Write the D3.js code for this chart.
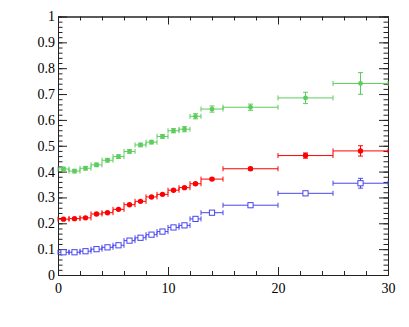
<!DOCTYPE html>
<html lang="en">
  <head>
    <meta charset="utf-8">
    <title>Three series with error bars</title>
    <script src="https://d3js.org/d3.v7.min.js"></script>
    <style>
      body { margin: 0; background: #fff; }
      svg text { font-family: "Liberation Serif", "DejaVu Serif", Tinos, serif !important; font-size: 14px !important; }
    </style>
  </head>
  <body>
  <script>

  var w = 409;
  var h = 327;
  var margin = {top: 16.5, right: 21, bottom: 52, left: 58};

  // bin centres and half widths (shared by all series)
  var xVals = [0.5, 1.5, 2.5, 3.5, 4.5, 5.5, 6.5, 7.5, 8.5, 9.5, 10.5, 11.5, 12.5, 14, 17.5, 22.5, 27.5];
  var xErr  = [0.5, 0.5, 0.5, 0.5, 0.5, 0.5, 0.5, 0.5, 0.5, 0.5, 0.5, 0.5, 0.5, 1, 2.5, 2.5, 2.5];

  // green series
  var greenY   = [0.410, 0.402, 0.413, 0.426, 0.444, 0.458, 0.478, 0.503, 0.514, 0.536, 0.558, 0.564, 0.614, 0.642, 0.649, 0.685, 0.741];
  var greenErr = [0.007, 0.007, 0.007, 0.007, 0.007, 0.007, 0.007, 0.007, 0.007, 0.007, 0.008, 0.010, 0.010, 0.012, 0.012, 0.022, 0.042];

  // red series
  var redY   = [0.216, 0.218, 0.221, 0.236, 0.241, 0.254, 0.272, 0.285, 0.302, 0.312, 0.328, 0.338, 0.353, 0.371, 0.411, 0.462, 0.480];
  var redErr = [0.003, 0.003, 0.003, 0.003, 0.003, 0.003, 0.003, 0.003, 0.003, 0.003, 0.003, 0.004, 0.004, 0.004, 0.005, 0.010, 0.020];

  // blue series
  var blueY   = [0.088, 0.088, 0.092, 0.100, 0.107, 0.115, 0.133, 0.144, 0.156, 0.168, 0.184, 0.192, 0.217, 0.241, 0.270, 0.316, 0.355];
  var blueErr = [0.005, 0.005, 0.005, 0.005, 0.005, 0.005, 0.005, 0.005, 0.005, 0.005, 0.005, 0.005, 0.006, 0.006, 0.006, 0.007, 0.019];

  var xTicks = [0, 10, 20, 30];
  var yTicks = [0, 0.1, 0.2, 0.3, 0.4, 0.5, 0.6, 0.7, 0.8, 0.9, 1];

  var svg = d3.select("body")
    .append("svg")
    .attr("width", w)
    .attr("height", h);

  var xScale = d3.scaleLinear()
    .domain([0, 30])
    .range([margin.left, w - margin.right]);

  var yScale = d3.scaleLinear()
    .domain([0, 1])
    .range([h - margin.bottom, margin.top]);

  var x0 = xScale.range()[0], x1 = xScale.range()[1];
  var y0 = yScale.range()[0], y1 = yScale.range()[1];

  //minor tick positions
  var xMinor = d3.range(0, 30.001, 2);
  var yMinor = d3.range(0, 1.001, 0.02);

  function styleAxis(g) {
    g.attr("font-family", null).attr("font-size", null);
    g.selectAll("path.domain").attr("stroke", "#222");
    g.selectAll(".tick line").attr("stroke", "#222");
    g.selectAll(".tick text").attr("fill", "#000");
  }

  // bottom axis
  svg.append("g")
    .attr("transform", `translate(0, ${y0})`)
    .call(d3.axisBottom(xScale).tickValues(xTicks).tickSizeInner(-8).tickSizeOuter(0).tickPadding(8).tickFormat(d3.format("~g")))
    .call(styleAxis);
  svg.append("g")
    .attr("transform", `translate(0, ${y0})`)
    .call(d3.axisBottom(xScale).tickValues(xMinor).tickSizeInner(-4).tickSizeOuter(0).tickFormat(""))
    .call(styleAxis);

  // top axis
  svg.append("g")
    .attr("transform", `translate(0, ${y1})`)
    .call(d3.axisTop(xScale).tickValues(xTicks).tickSizeInner(-8).tickSizeOuter(0).tickFormat(""))
    .call(styleAxis);
  svg.append("g")
    .attr("transform", `translate(0, ${y1})`)
    .call(d3.axisTop(xScale).tickValues(xMinor).tickSizeInner(-4).tickSizeOuter(0).tickFormat(""))
    .call(styleAxis);

  // left axis
  svg.append("g")
    .attr("transform", `translate(${x0}, 0)`)
    .call(d3.axisLeft(yScale).tickValues(yTicks).tickSizeInner(-9).tickSizeOuter(0).tickPadding(3).tickFormat(d3.format("~g")))
    .call(styleAxis);
  svg.append("g")
    .attr("transform", `translate(${x0}, 0)`)
    .call(d3.axisLeft(yScale).tickValues(yMinor).tickSizeInner(-4.5).tickSizeOuter(0).tickFormat(""))
    .call(styleAxis);

  // right axis
  svg.append("g")
    .attr("transform", `translate(${x1}, 0)`)
    .call(d3.axisRight(yScale).tickValues(yTicks).tickSizeInner(-9).tickSizeOuter(0).tickFormat(""))
    .call(styleAxis);
  svg.append("g")
    .attr("transform", `translate(${x1}, 0)`)
    .call(d3.axisRight(yScale).tickValues(yMinor).tickSizeInner(-4.5).tickSizeOuter(0).tickFormat(""))
    .call(styleAxis);

  var series = [
    {ys: greenY, errs: greenErr, color: "#5ccc5c", marker: "circle", r: 2.4},
    {ys: redY,   errs: redErr,   color: "#ff0000", marker: "circle", r: 2.7},
    {ys: blueY,  errs: blueErr,  color: "#4646ee", marker: "square", r: 2.6}
  ];

  series.forEach(function(s) {
    var pts = xVals.map(function(x, i) {
      return {x: x, xe: xErr[i], y: s.ys[i], ye: s.errs[i]};
    });

    var g = svg.append("g")
      .attr("stroke", s.color)
      .attr("stroke-width", 1)
      .attr("fill", "none");

    // horizontal error bars + end caps
    g.selectAll("line.xe").data(pts).enter().append("line")
      .attr("x1", d => xScale(d.x - d.xe))
      .attr("x2", d => xScale(d.x + d.xe))
      .attr("y1", d => yScale(d.y))
      .attr("y2", d => yScale(d.y));
    g.selectAll("line.xc").data(pts.flatMap(d => [{x: d.x - d.xe, y: d.y}, {x: d.x + d.xe, y: d.y}])).enter().append("line")
      .attr("x1", d => xScale(d.x))
      .attr("x2", d => xScale(d.x))
      .attr("y1", d => yScale(d.y) - 2.5)
      .attr("y2", d => yScale(d.y) + 2.5);

    // vertical error bars + caps
    g.selectAll("line.ye").data(pts).enter().append("line")
      .attr("x1", d => xScale(d.x))
      .attr("x2", d => xScale(d.x))
      .attr("y1", d => yScale(d.y - d.ye))
      .attr("y2", d => yScale(d.y + d.ye));
    g.selectAll("line.yc").data(pts.flatMap(d => [{x: d.x, y: d.y - d.ye}, {x: d.x, y: d.y + d.ye}])).enter().append("line")
      .attr("x1", d => xScale(d.x) - 2.5)
      .attr("x2", d => xScale(d.x) + 2.5)
      .attr("y1", d => yScale(d.y))
      .attr("y2", d => yScale(d.y));

    if (s.marker === "circle") {
      g.selectAll("circle").data(pts).enter().append("circle")
        .attr("cx", d => xScale(d.x))
        .attr("cy", d => yScale(d.y))
        .attr("r", s.r)
        .attr("fill", s.color)
        .attr("stroke", "none");
    } else {
      g.selectAll("rect").data(pts).enter().append("rect")
        .attr("x", d => xScale(d.x) - s.r)
        .attr("y", d => yScale(d.y) - s.r)
        .attr("width", 2 * s.r)
        .attr("height", 2 * s.r)
        .attr("fill", "#fff");
    }
  });

  </script>
  </body>
</html>
